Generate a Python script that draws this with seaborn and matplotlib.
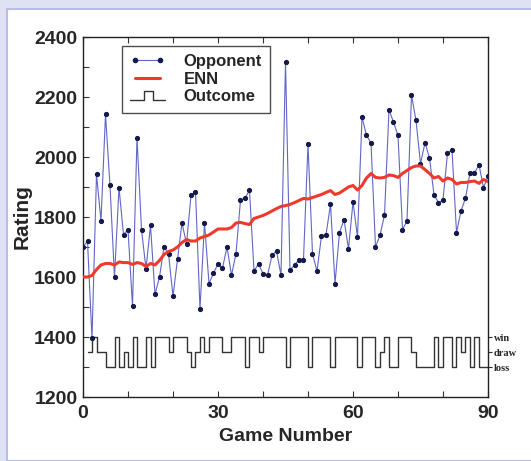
import numpy as np
import pandas as pd
import matplotlib
matplotlib.use('Agg')
import matplotlib.pyplot as plt
from matplotlib.lines import Line2D
from matplotlib.patches import Rectangle
from matplotlib.legend_handler import HandlerBase
from matplotlib.ticker import MultipleLocator
import seaborn as sns

# data
games = list(range(91))
opponent = [1700, 1720, 1395, 1942, 1787, 2142, 1905, 1600, 1898, 1741,
            1758, 1503, 2064, 1758, 1627, 1772, 1542, 1600, 1700, 1678,
            1536, 1659, 1780, 1711, 1872, 1883, 1494, 1780, 1578, 1613,
            1644, 1630, 1700, 1606, 1678, 1856, 1863, 1889, 1620, 1644,
            1611, 1606, 1672, 1687, 1606, 2317, 1624, 1639, 1658, 1658,
            2042, 1678, 1619, 1738, 1741, 1842, 1578, 1748, 1791, 1694,
            1850, 1733, 2133, 2072, 2047, 1700, 1739, 1806, 2158, 2116,
            2072, 1758, 1787, 2206, 2122, 1978, 2047, 1997, 1874, 1848,
            1856, 2013, 2024, 1748, 1820, 1863, 1947, 1947, 1974, 1898,
            1936]
enn = [1600, 1600, 1605, 1625, 1640, 1645, 1645, 1640, 1650, 1648,
       1648, 1642, 1648, 1645, 1635, 1645, 1640, 1655, 1675, 1685,
       1690, 1700, 1715, 1725, 1720, 1720, 1730, 1735, 1740, 1750,
       1760, 1760, 1760, 1765, 1780, 1782, 1778, 1775, 1795, 1800,
       1805, 1812, 1820, 1828, 1835, 1838, 1842, 1848, 1855, 1862,
       1860, 1865, 1870, 1875, 1882, 1888, 1875, 1880, 1890, 1900,
       1905, 1890, 1905, 1930, 1945, 1932, 1930, 1932, 1940, 1938,
       1932, 1945, 1955, 1965, 1970, 1970, 1958, 1945, 1930, 1935,
       1920, 1930, 1925, 1910, 1915, 1915, 1918, 1920, 1912, 1925,
       1918]
outcome_games = list(range(1, 91))
outcome = list("DWDDLLWLDL" "WLLWLWWWDW" "WWDLDWDWWW" "DDWWWLWWDW"
               "WWWWLWWWWL" "WWWWLWWWWW" "LWWWLDWLLW" "WWDLLLLWLW"
               "WLWDWLWLLL")
outcome_levels = {'W': 1400, 'D': 1350, 'L': 1300}
outcome_names = ['loss', 'draw', 'win']

COLORS = {'opp': '#6266c6', 'dot': '#141a4a', 'enn': '#ee3a2c', 'out': '#333333'}

sns.set_style('white')
plt.rcParams['font.family'] = ['Liberation Sans', 'DejaVu Sans']

df_opp = pd.DataFrame({'game': games, 'rating': opponent})
df_enn = pd.DataFrame({'game': games, 'rating': enn})
df_out = pd.DataFrame({'game': outcome_games,
                       'rating': [outcome_levels[o] for o in outcome]})

fig = plt.figure(figsize=(5.31, 4.61), dpi=100, facecolor='#dfe2f3')
# white card with a lavender frame, like the scanned figure
fig.patches.append(Rectangle((7 / 531, 0), 1, 1 - 9 / 461, transform=fig.transFigure,
                             facecolor='white', edgecolor='#b9bde3', linewidth=1.5,
                             zorder=-10))
ax = fig.add_axes([83 / 531, 1 - 397 / 461, 405 / 531, 360 / 461])
ax.set_facecolor('none')

sns.lineplot(data=df_out, x='game', y='rating', ax=ax, color=COLORS['out'],
             linewidth=1.0, drawstyle='steps-post', estimator=None, zorder=2)
sns.lineplot(data=df_opp, x='game', y='rating', ax=ax, color=COLORS['opp'],
             linewidth=0.8, estimator=None, marker='o', markersize=3,
             markerfacecolor=COLORS['dot'], markeredgecolor=COLORS['dot'], zorder=3)
sns.lineplot(data=df_enn, x='game', y='rating', ax=ax, color=COLORS['enn'],
             linewidth=2.2, estimator=None, zorder=4)

ax.set_xlim(0, 90)
ax.set_ylim(1200, 2400)
ax.xaxis.set_major_locator(MultipleLocator(30))
ax.xaxis.set_minor_locator(MultipleLocator(10))
ax.yaxis.set_major_locator(MultipleLocator(200))
ax.yaxis.set_minor_locator(MultipleLocator(100))
ax.tick_params(which='both', direction='in', top=True, right=True,
               bottom=True, left=True, color='#333333', width=0.8)
ax.tick_params(which='major', length=4, labelsize=14, pad=6)
ax.tick_params(which='minor', length=4)
for lab in ax.get_xticklabels() + ax.get_yticklabels():
    lab.set_fontweight('bold')
ax.tick_params(axis='y', pad=4)
for s in ax.spines.values():
    s.set_color('#222222')
    s.set_linewidth(1.0)

ax.set_xlabel('Game Number', fontsize=14, fontweight='bold', labelpad=4)
ax.set_ylabel('Rating', fontsize=15, fontweight='bold', labelpad=2)

# outcome scale on the right
ax2 = ax.twinx()
ax2.set_ylim(ax.get_ylim())
ax2.set_yticks([outcome_levels['L'], outcome_levels['D'], outcome_levels['W']])
ax2.set_yticklabels(outcome_names, fontsize=7.5, fontweight='bold',
                    family=['Liberation Serif', 'DejaVu Serif'])
ax2.tick_params(axis='y', direction='out', length=3, pad=1, width=0.8)
for s in ax2.spines.values():
    s.set_visible(False)


class StepHandler(HandlerBase):
    def create_artists(self, legend, orig_handle, xdescent, ydescent,
                       width, height, fontsize, trans):
        xs = np.array([0, 0.4, 0.4, 0.65, 0.65, 1.0]) * width - xdescent
        ys = np.array([0.1, 0.1, 0.9, 0.9, 0.1, 0.1]) * height - ydescent
        line = Line2D(xs, ys, color=orig_handle.get_color(),
                      linewidth=orig_handle.get_linewidth())
        line.set_transform(trans)
        return [line]


h_opp = Line2D([], [], color=COLORS['opp'], linewidth=0.8, marker='o',
               markersize=3, markerfacecolor=COLORS['dot'], markeredgecolor=COLORS['dot'])
h_enn = Line2D([], [], color=COLORS['enn'], linewidth=2.2)
h_out = Line2D([], [], color=COLORS['out'], linewidth=1.0)
leg = ax.legend([h_opp, h_enn, h_out], ['Opponent', 'ENN', 'Outcome'],
                handler_map={h_out: StepHandler()},
                loc='upper left', bbox_to_anchor=(0.096, 0.975),
                prop={'weight': 'bold', 'size': 12}, frameon=True, fancybox=False,
                handlelength=2.1, handletextpad=1.1, labelspacing=0.15,
                borderpad=0.5, borderaxespad=0, numpoints=2)
leg.get_frame().set_edgecolor('#222222')
leg.get_frame().set_linewidth(1.0)

plt.savefig('out.png', dpi=100, facecolor=fig.get_facecolor())
